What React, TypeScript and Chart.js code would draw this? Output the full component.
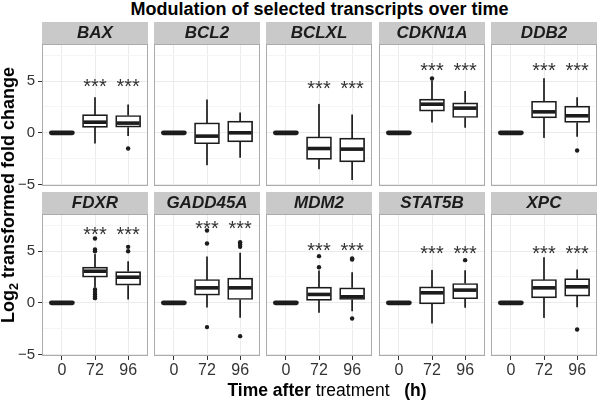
import React, { useEffect, useRef } from 'react';
import { Chart, registerables } from 'chart.js';

Chart.register(...registerables);

// ---------------- data ----------------
const GENES = ['BAX', 'BCL2', 'BCLXL', 'CDKN1A', 'DDB2', 'FDXR', 'GADD45A', 'MDM2', 'STAT5B', 'XPC'];
const TIME_LABELS = ['0', '72', '96'];
const Y_TICKS = [-5, -2.5, 0, 2.5, 5, 7.5];

// 0 h: reference condition, every value is 0  [low whisker, Q1, median, Q3, high whisker]
const BASELINE = [0, 0, 0, 0, 0];

// 72 h, per gene (same order as GENES)
const LOW_72 = [-0.97, -3.06, -3.45, 1.06, -0.42, 1.55, -0.39, -0.9, -1.94, -1.39];
const Q1_72 = [0.52, -1.06, -2.58, 2.1, 1.45, 2.48, 0.74, 0.23, -0.1, 0.48];
const MED_72 = [1.03, -0.32, -1.52, 2.77, 2.03, 3.06, 1.45, 0.81, 0.97, 1.45];
const Q3_72 = [1.77, 0.97, -0.39, 3.26, 3.06, 3.45, 2.26, 1.52, 1.55, 2.26];
const HIGH_72 = [3.39, 3.16, 2.74, 5.0, 5.23, 4.68, 4.42, 3.06, 3.13, 4.35];
const OUT_72 = [
  [], [], [], [5.26], [],
  [6.23, 5.16, 5.0, 1.29, 1.05, 0.81, 0.6, 0.45],
  [7.0, 5.74, -2.35],
  [4.52, 3.45],
  [], [],
];

// 96 h, per gene
const LOW_96 = [-0.32, -2.42, -4.58, 0.48, -0.39, 0.32, -1.45, -0.81, -0.48, -0.42];
const Q1_96 = [0.55, -0.87, -2.81, 1.48, 1.0, 1.71, 0.32, 0.32, 0.39, 0.65];
const MED_96 = [0.94, 0, -1.58, 2.39, 1.65, 2.48, 1.45, 0.58, 1.23, 1.55];
const Q3_96 = [1.68, 1.13, -0.52, 2.9, 2.58, 3.03, 2.39, 1.45, 1.87, 2.35];
const HIGH_96 = [2.74, 1.97, 1.77, 4.06, 3.45, 4.03, 4.84, 2.97, 3.16, 3.23];
const OUT_96 = [
  [-1.52], [], [], [], [-1.71],
  [5.42, 5.0],
  [5.87, 5.65, 5.42, -3.23],
  [4.19, 4.3, -1.52],
  [4.13],
  [-2.58],
];

// significance marks (72 h and 96 h) and their height
const SIG_LABEL = '***';
const SIG_Y = [5.0, null, 4.77, 6.48, 6.48, 7.1, 7.68, 5.58, 5.26, 5.26];

// ---------------- style / layout ----------------
const FONT = "'Liberation Sans', Arial, Helvetica, sans-serif";
const INK = '#1c1c1c';
const AXIS_TEXT = '#333333';
const STRIP_BG = '#c9c9c9';
const PANEL_BORDER = '#ababab';
const GRID_MAJOR = '#ebebeb';
const GRID_MINOR = '#f5f5f5';

const PANEL_LEFT = [42, 154, 266, 379, 491];
const PANEL_W = 106;
const ROW_TOP = [22, 192];
const STRIP_H = 22;
const PANEL_H = 142;
const X_AXIS_H = [8, 26];
const COL0_CANVAS_LEFT = 18;
const Y_MIN = -5.15;
const Y_MAX = 8.6;

Chart.defaults.font.family = FONT;

function groupStats(i: number): number[][] {
  return [
    BASELINE,
    [LOW_72[i], Q1_72[i], MED_72[i], Q3_72[i], HIGH_72[i]],
    [LOW_96[i], Q1_96[i], MED_96[i], Q3_96[i], HIGH_96[i]],
  ];
}

function fmtTick(v: number): string {
  if (v % 5 !== 0) return '';
  return v < 0 ? '\u2212' + Math.abs(v) : String(v);
}

function Panel({ idx }: { idx: number }) {
  const ref = useRef<HTMLCanvasElement>(null);
  const row = Math.floor(idx / 5);
  const col = idx % 5;
  const panelLeft = PANEL_LEFT[col];
  const canvasLeft = col === 0 ? COL0_CANVAS_LEFT : panelLeft;
  const yAxisW = panelLeft - canvasLeft;
  const xAxisH = X_AXIS_H[row];
  const width = yAxisW + PANEL_W;
  const height = STRIP_H + PANEL_H + xAxisH;
  const top = ROW_TOP[row];

  useEffect(() => {
    const stats = groupStats(idx);
    const boxes = stats.map((s, k) => ({ x: k + 1, y: [s[1], s[3]] }));
    const outliers = [
      ...OUT_72[idx].map((v) => ({ x: 2, y: v })),
      ...OUT_96[idx].map((v) => ({ x: 3, y: v })),
    ];

    const stripPlugin = {
      id: 'strip',
      beforeDraw(chart: any) {
        const { ctx, chartArea } = chart;
        ctx.save();
        ctx.fillStyle = STRIP_BG;
        ctx.fillRect(chartArea.left, 0, chartArea.right - chartArea.left, chartArea.top);
        ctx.restore();
      },
      beforeDatasetsDraw(chart: any) {
        const { ctx, chartArea } = chart;
        ctx.save();
        ctx.strokeStyle = PANEL_BORDER;
        ctx.lineWidth = 1;
        ctx.strokeRect(
          chartArea.left + 0.5,
          chartArea.top + 0.5,
          chartArea.right - chartArea.left - 1,
          chartArea.bottom - chartArea.top - 1
        );
        ctx.restore();
      },
    };

    const boxPlugin = {
      id: 'boxDetails',
      afterDatasetsDraw(chart: any) {
        const { ctx } = chart;
        const xs = chart.scales.x;
        const ys = chart.scales.y;
        const half = 12.5;
        ctx.save();
        ctx.strokeStyle = INK;
        stats.forEach((s, k) => {
          const cx = xs.getPixelForValue(k + 1);
          const [lo, q1, med, q3, hi] = s;
          if (hi > lo) {
            ctx.lineWidth = 1.7;
            ctx.beginPath();
            ctx.moveTo(cx, ys.getPixelForValue(q3));
            ctx.lineTo(cx, ys.getPixelForValue(hi));
            ctx.moveTo(cx, ys.getPixelForValue(q1));
            ctx.lineTo(cx, ys.getPixelForValue(lo));
            ctx.stroke();
          }
          const my = ys.getPixelForValue(med);
          ctx.beginPath();
          if (hi === lo) {
            ctx.lineWidth = 4.8;
            ctx.lineCap = 'round';
            ctx.moveTo(cx - half + 2, my);
            ctx.lineTo(cx + half - 2, my);
          } else {
            ctx.lineWidth = 3.6;
            ctx.lineCap = 'butt';
            ctx.moveTo(cx - half + 1, my);
            ctx.lineTo(cx + half - 1, my);
          }
          ctx.stroke();
        });
        const sy = SIG_Y[idx];
        if (sy !== null) {
          ctx.fillStyle = AXIS_TEXT;
          ctx.font = `20px ${FONT}`;
          ctx.textAlign = 'center';
          ctx.textBaseline = 'alphabetic';
          [2, 3].forEach((v) => {
            ctx.fillText(SIG_LABEL, xs.getPixelForValue(v), ys.getPixelForValue(sy) + 11.5);
          });
        }
        ctx.restore();
      },
    };

    const chart = new Chart(ref.current as HTMLCanvasElement, {
      type: 'bar',
      data: {
        datasets: [
          {
            type: 'bar',
            data: boxes as any,
            backgroundColor: '#ffffff',
            borderColor: INK,
            borderWidth: 1.7,
            borderSkipped: false,
            barThickness: 25,
            grouped: false,
            order: 2,
          } as any,
          {
            type: 'scatter',
            data: outliers as any,
            pointRadius: 2.2,
            pointBackgroundColor: INK,
            pointBorderWidth: 0,
            order: 1,
          } as any,
        ],
      },
      options: {
        responsive: false,
        animation: false,
        devicePixelRatio: 1,
        layout: { padding: 0, autoPadding: false },
        events: [],
        plugins: {
          legend: { display: false },
          tooltip: { enabled: false },
          title: {
            display: true,
            text: GENES[idx],
            fullSize: false,
            color: INK,
            font: { family: FONT, size: 17, weight: 'bold', style: 'italic', lineHeight: 1 },
            padding: { top: 3, bottom: 2 },
          },
        },
        scales: {
          x: {
            type: 'linear',
            min: 0.4,
            max: 3.6,
            offset: false,
            afterBuildTicks: (s: any) => {
              s.ticks = TIME_LABELS.map((_, k) => ({ value: k + 1 }));
            },
            afterFit: (s: any) => {
              s.height = xAxisH;
              s.paddingLeft = 0;
              s.paddingRight = 0;
            },
            border: { display: false },
            grid: {
              color: GRID_MAJOR,
              lineWidth: 1,
              offset: false,
              drawTicks: row === 1,
              tickLength: 4,
              tickColor: AXIS_TEXT,
              tickWidth: 1,
            },
            ticks: {
              display: row === 1,
              autoSkip: false,
              maxRotation: 0,
              padding: 1,
              color: AXIS_TEXT,
              font: { family: FONT, size: 16 },
              callback: (_v: any, k: number) => TIME_LABELS[k],
            },
          },
          y: {
            type: 'linear',
            min: Y_MIN,
            max: Y_MAX,
            afterBuildTicks: (s: any) => {
              s.ticks = Y_TICKS.map((v) => ({ value: v }));
            },
            afterFit: (s: any) => {
              s.width = yAxisW;
              s.paddingTop = 0;
              s.paddingBottom = 0;
            },
            border: { display: false },
            grid: {
              color: (c: any) => (c.tick && c.tick.value % 5 === 0 ? GRID_MAJOR : GRID_MINOR),
              lineWidth: 1,
              drawTicks: col === 0,
              tickLength: 4,
              tickColor: (c: any) => (c.tick && c.tick.value % 5 === 0 ? AXIS_TEXT : 'rgba(0,0,0,0)'),
              tickWidth: 1,
            },
            ticks: {
              display: col === 0,
              autoSkip: false,
              padding: 3,
              color: AXIS_TEXT,
              font: { family: FONT, size: 15 },
              callback: (v: any) => fmtTick(Number(v)),
            },
          },
        },
      } as any,
      plugins: [stripPlugin, boxPlugin],
    });
    return () => chart.destroy();
  }, [idx]);

  return (
    <canvas
      ref={ref}
      width={width}
      height={height}
      style={{ position: 'absolute', left: canvasLeft, top, width, height, display: 'block' }}
    />
  );
}

export default function App() {
  return (
    <div
      style={{
        position: 'absolute',
        left: 0,
        top: 0,
        width: 600,
        height: 402,
        background: '#ffffff',
        overflow: 'hidden',
        fontFamily: FONT,
        color: '#000',
      }}
    >
      <div
        style={{
          position: 'absolute',
          left: 42,
          width: 555,
          top: -1,
          textAlign: 'center',
          fontWeight: 'bold',
          fontSize: 18,
          lineHeight: '20px',
          whiteSpace: 'nowrap',
        }}
      >
        Modulation of selected transcripts over time
      </div>
      {GENES.map((_, i) => (
        <Panel key={i} idx={i} />
      ))}
      <div
        style={{
          position: 'absolute',
          left: 8.8,
          top: 194.5,
          transform: 'translate(-50%, -50%) rotate(-90deg)',
          fontWeight: 'bold',
          fontSize: 18,
          lineHeight: '20px',
          whiteSpace: 'nowrap',
        }}
      >
        Log
        <sub style={{ fontSize: '0.7em', verticalAlign: 'baseline', position: 'relative', top: '0.3em' }}>2</sub>{' '}
        transformed fold change
      </div>
      <div
        style={{
          position: 'absolute',
          left: 327,
          top: 380,
          transform: 'translateX(-50%)',
          fontSize: 17.5,
          lineHeight: '20px',
          whiteSpace: 'pre',
        }}
      >
        <b>Time after</b>
        <span> treatment   </span>
        <b>(h)</b>
      </div>
    </div>
  );
}
